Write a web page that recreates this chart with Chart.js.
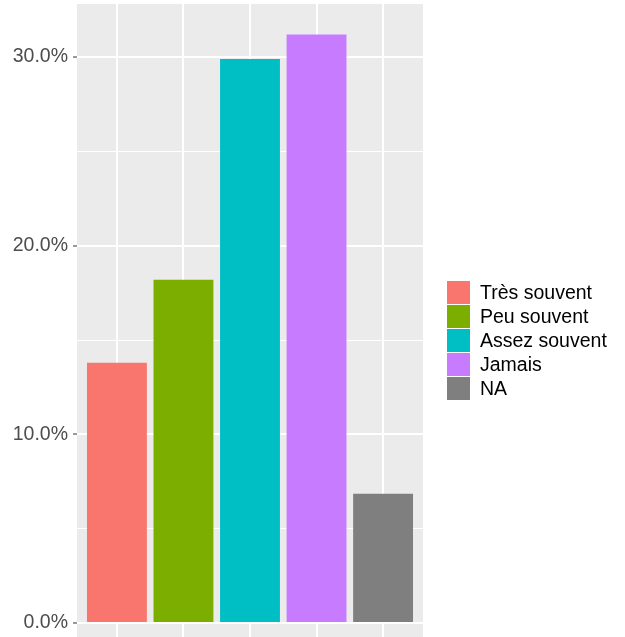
<!DOCTYPE html>
<html>
<head>
<meta charset="utf-8">
<script src="https://cdn.jsdelivr.net/npm/chart.js@4/dist/chart.umd.min.js"></script>
<style>
    html, body { margin: 0; padding: 0; background: #fff; }
    #wrap { position: relative; width: 625px; height: 637px; }
    #legend { position: absolute; left: 447px; top: 280px; font-family: "Liberation Sans", Arial, sans-serif; font-size: 19.5px; color: #000; }
    .item { display: flex; align-items: center; height: 24px; }
    .key { width: 23px; height: 23px; margin-right: 10px; }
</style>
</head>
<body>
<div id="wrap">
    <canvas id="chart" width="625" height="637"></canvas>
    <div id="legend"></div>
</div>
<script>
// Data (share of answers, %)
const categories = ['Très souvent', 'Peu souvent', 'Assez souvent', 'Jamais', 'NA'];
const positions = [1, 2, 3, 4, 5];
const shares = [13.8, 18.2, 29.9, 31.2, 6.85];
const colors = ['#F8766D', '#7CAE00', '#00BFC4', '#C77CFF', '#7F7F7F'];
const yTicks = [0, 5, 10, 15, 20, 25, 30];
const yLabelled = [0, 10, 20, 30];

// one dataset per category so each gets its own legend entry
const datasets = categories.map((name, i) => ({
    label: name,
    data: [{ x: positions[i], y: shares[i] }],
    backgroundColor: colors[i],
    borderWidth: 0,
    grouped: false,
    barPercentage: 0.9,
    categoryPercentage: 1
}));

// grey ggplot panel behind the grid
const panelBg = {
    id: 'panelBg',
    beforeDraw(chart) {
        const a = chart.chartArea;
        const ctx = chart.ctx;
        ctx.save();
        ctx.fillStyle = '#EBEBEB';
        ctx.fillRect(a.left, a.top, a.right - a.left, a.bottom - a.top);
        ctx.restore();
    }
};

const isMajor = v => yLabelled.includes(v);

new Chart(document.getElementById('chart'), {
    type: 'bar',
    data: { datasets },
    plugins: [panelBg],
    options: {
        responsive: false,
        animation: false,
        layout: { padding: { top: 4, right: 202, bottom: 0, left: 0 } },
        plugins: {
            legend: { display: false },
            tooltip: { enabled: false }
        },
        scales: {
            x: {
                type: 'linear',
                min: 0.4,
                max: 5.6,
                offset: false,
                afterBuildTicks: scale => { scale.ticks = positions.map(v => ({ value: v })); },
                afterFit: scale => {
                    scale.height = 0;
                    scale.paddingLeft = scale.paddingRight = 0;
                },
                ticks: { display: false },
                border: { display: false },
                grid: { color: '#FFFFFF', lineWidth: 2, drawTicks: false, offset: false }
            },
            y: {
                min: -0.74,
                max: 32.81,
                afterBuildTicks: scale => { scale.ticks = yTicks.map(v => ({ value: v })); },
                afterFit: scale => {
                    scale.width = 77;
                    scale.paddingTop = scale.paddingBottom = 0;
                },
                ticks: {
                    padding: 5,
                    color: '#4D4D4D',
                    font: { family: '"Liberation Sans", Arial, sans-serif', size: 19.5 },
                    callback: v => isMajor(v) ? v.toFixed(1) + '%' : ''
                },
                border: { display: false },
                grid: {
                    color: '#FFFFFF',
                    lineWidth: ctx => isMajor(ctx.tick.value) ? 2 : 1,
                    tickColor: ctx => isMajor(ctx.tick.value) ? '#333333' : 'rgba(0,0,0,0)',
                    tickLength: 4,
                    tickWidth: 1
                }
            }
        }
    }
});

// legend in the ggplot style
const legend = document.getElementById('legend');
legend.innerHTML = categories.map((name, i) =>
    `<div class="item"><span class="key" style="background:${colors[i]}"></span><span>${name}</span></div>`
).join('');
</script>
</body>
</html>
